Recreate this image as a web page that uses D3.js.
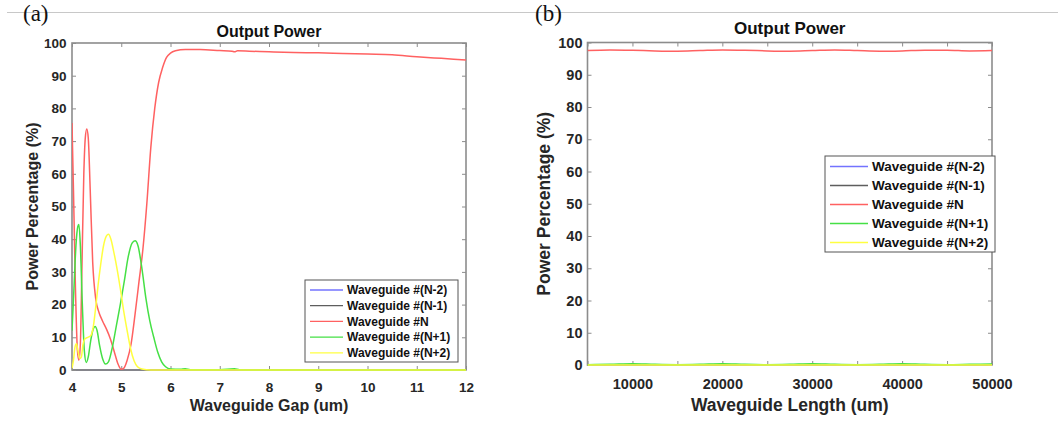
<!DOCTYPE html>
<html>
<head>
<meta charset="utf-8">
<script src="https://cdn.jsdelivr.net/npm/d3@7"></script>
<style>
  html, body { margin: 0; padding: 0; background: #fff; }
  svg { display: block; font-family: "Liberation Sans", Arial, sans-serif; }
</style>
</head>
<body>
<svg id="fig" width="1058" height="423"></svg>
<script>
// ---------- shared legend ----------
const seriesNames  = ["Waveguide #(N-2)", "Waveguide #(N-1)", "Waveguide #N", "Waveguide #(N+1)", "Waveguide #(N+2)"];
const seriesColors = ["#7373ff", "#5e5e5e", "#ff6161", "#45e045", "#ffff40"];

// ---------- panel (a): output power vs. waveguide gap (um) ----------
const gapTicks = [4, 5, 6, 7, 8, 9, 10, 11, 12];
const powerTicks = [0, 10, 20, 30, 40, 50, 60, 70, 80, 90, 100];

const gapNm2 = [4, 6, 8, 10, 12];
const powNm2 = [0, 0, 0, 0, 0];

const gapNm1 = [4, 6, 8, 10, 12];
const powNm1 = [0, 0, 0, 0, 0];

const gapN = [4.00, 4.03, 4.07, 4.11, 4.14, 4.17, 4.20, 4.24, 4.27, 4.30, 4.33, 4.37, 4.42, 4.48,
              4.55, 4.62, 4.70, 4.78, 4.86, 4.93, 5.00, 5.05, 5.12, 5.20, 5.28, 5.36, 5.44, 5.52,
              5.60, 5.68, 5.76, 5.84, 5.92, 6.00, 6.10, 6.30, 6.60, 7.00, 7.25, 7.30, 7.36, 7.60,
              8.00, 8.50, 9.00, 9.50, 10.00, 10.50, 11.00, 11.50, 12.00];
const powN = [75.5, 55, 25, 6, 3, 8, 30, 60, 71, 73.7, 71, 55, 33, 22,
              17.5, 15, 12.5, 9.5, 5.5, 2, 0.2, 0.5, 3, 8, 17, 27, 37, 51,
              68, 80, 88, 92.5, 95.6, 96.9, 97.6, 98.0, 98.0, 97.7, 97.5, 97.3, 97.6, 97.5,
              97.3, 97.1, 97.0, 96.8, 96.6, 96.4, 95.8, 95.3, 94.8];

const gapNp1 = [4.00, 4.04, 4.08, 4.12, 4.14, 4.17, 4.21, 4.25, 4.29, 4.33, 4.38, 4.43, 4.47, 4.51,
                4.56, 4.62, 4.68, 4.74, 4.82, 4.90, 4.98, 5.06, 5.14, 5.22, 5.28, 5.34, 5.42, 5.50,
                5.58, 5.66, 5.74, 5.82, 5.90, 6.00, 6.20, 6.30, 6.40, 7.00, 7.30, 7.40, 8.00, 12.00];
const powNp1 = [12, 25, 38, 44, 44.5, 38, 20, 6, 2.3, 4, 9, 12.5, 13.3, 12,
                7.5, 3.5, 1.8, 2.5, 7, 13.5, 20, 27, 34.5, 38.8, 39.5, 38, 31, 22,
                15, 10, 5.5, 2.5, 1, 0.3, 0.2, 0.4, 0.1, 0.1, 0.4, 0.1, 0, 0];

const gapNp2 = [4.00, 4.03, 4.06, 4.09, 4.12, 4.16, 4.19, 4.22, 4.26, 4.32, 4.38, 4.43, 4.48, 4.53,
                4.58, 4.64, 4.70, 4.74, 4.79, 4.85, 4.92, 4.98, 5.05, 5.12, 5.19, 5.26, 5.33, 5.42,
                5.60, 8.00, 12.00];
const powNp2 = [0.5, 3, 7, 8, 6, 3.5, 4, 7.5, 9.5, 10, 10.5, 13, 19, 26,
                32, 38, 41, 41.5, 40, 36, 30.5, 25, 18, 12, 6.5, 2.8, 1, 0.3,
                0, 0, 0];

// ---------- panel (b): output power vs. waveguide length (um) ----------
const lengthTicks = [5000, 10000, 15000, 20000, 25000, 30000, 35000, 40000, 45000, 50000];

const lengthPts = [5000, 7500, 10000, 12500, 15000, 17500, 20000, 22500, 25000, 27500,
                   30000, 32500, 35000, 37500, 40000, 42500, 45000, 47500, 50000];
const lenNm2 = [0, 0, 0, 0, 0, 0, 0, 0, 0, 0, 0, 0, 0, 0, 0, 0, 0, 0, 0];
const lenNm1 = [0, 0, 0, 0, 0, 0, 0, 0, 0, 0, 0, 0, 0, 0, 0, 0, 0, 0, 0];
const lenN   = [97.5, 97.7, 97.6, 97.4, 97.3, 97.5, 97.7, 97.6, 97.4, 97.3,
                97.5, 97.7, 97.5, 97.3, 97.4, 97.6, 97.6, 97.4, 97.5];
const lenNp1 = [0.1, 0.2, 0.4, 0.2, 0.1, 0.2, 0.4, 0.2, 0.1, 0.2,
                0.4, 0.2, 0.1, 0.2, 0.4, 0.2, 0.1, 0.2, 0.3];
const lenNp2 = [0, 0, 0, 0, 0, 0, 0, 0, 0, 0, 0, 0, 0, 0, 0, 0, 0, 0, 0];

// ---------- drawing ----------
const svg = d3.select("#fig");
const AXIS_GRAY = "#8c8c8c";
const TEXT_DARK = "#262626";

// thin rule across the top of the figure
svg.append("line")
  .attr("x1", 7).attr("x2", 1058).attr("y1", 12.5).attr("y2", 12.5)
  .attr("stroke", "#c8c8c8").attr("stroke-width", 1);

function drawPanel(p) {
  const g = svg.append("g");
  const x = d3.scaleLinear().domain(p.xDomain).range([p.left, p.right]);
  const y = d3.scaleLinear().domain([0, 100]).range([p.bottom, p.top]);

  // panel tag
  g.append("text")
    .attr("x", p.tagX).attr("y", 21)
    .attr("font-family", "'Liberation Serif', 'Times New Roman', serif")
    .attr("font-size", 23).attr("fill", "#111")
    .text(p.tag);

  // title
  g.append("text")
    .attr("x", (p.left + p.right) / 2).attr("y", p.titleY)
    .attr("text-anchor", "middle").attr("font-weight", "bold")
    .attr("font-size", p.titleSize).attr("fill", "#111")
    .text("Output Power");

  const clipId = "clip-" + p.tag.replace(/\W/g, "");
  g.append("clipPath").attr("id", clipId)
    .append("rect")
    .attr("x", p.left).attr("y", p.top - 2)
    .attr("width", p.right - p.left).attr("height", p.bottom - p.top + 4);

  const line = d3.line()
    .x(d => x(d[0])).y(d => y(d[1]))
    .curve(d3.curveMonotoneX);

  const drawCurves = (indices) => {
    const layer = g.append("g").attr("clip-path", `url(#${clipId})`);
    indices.forEach(i => {
      const s = p.series[i];
      layer.append("path")
        .datum(d3.zip(s[0], s[1]))
        .attr("d", line)
        .attr("fill", "none")
        .attr("stroke", seriesColors[i])
        .attr("stroke-width", 1.5)
        .attr("stroke-linejoin", "round");
    });
  };

  // the two outer guides sit flat on zero, beneath the axes frame
  drawCurves([0, 1]);

  // axes box with inward ticks on all four sides
  const styleAxis = (sel, size) => {
    sel.select(".domain").remove();
    sel.selectAll(".tick line").attr("stroke", AXIS_GRAY);
    sel.selectAll(".tick text")
      .attr("fill", TEXT_DARK).attr("font-weight", "bold")
      .attr("font-size", size).attr("font-family", "'Liberation Sans', Arial, sans-serif");
  };

  g.append("g").attr("transform", `translate(0,${p.bottom})`)
    .call(d3.axisBottom(x).tickValues(p.xTicks).tickSizeInner(-4).tickSizeOuter(0)
      .tickPadding(p.xPad).tickFormat(p.xFormat))
    .call(s => styleAxis(s, p.tickSize));

  g.append("g").attr("transform", `translate(0,${p.top})`)
    .call(d3.axisTop(x).tickValues(p.xTicks).tickSizeInner(-4).tickSizeOuter(0).tickFormat(""))
    .call(s => styleAxis(s, p.tickSize));

  g.append("g").attr("transform", `translate(${p.left},0)`)
    .call(d3.axisLeft(y).tickValues(powerTicks).tickSizeInner(-4).tickSizeOuter(0)
      .tickPadding(p.yPad).tickFormat(d3.format("d")))
    .call(s => styleAxis(s, p.tickSize));

  g.append("g").attr("transform", `translate(${p.right},0)`)
    .call(d3.axisRight(y).tickValues(powerTicks).tickSizeInner(-4).tickSizeOuter(0).tickFormat(""))
    .call(s => styleAxis(s, p.tickSize));

  g.append("rect")
    .attr("x", p.left).attr("y", p.top)
    .attr("width", p.right - p.left).attr("height", p.bottom - p.top)
    .attr("fill", "none").attr("stroke", AXIS_GRAY).attr("stroke-width", 1.6);

  // remaining curves drawn over the frame
  drawCurves([2, 3, 4]);

  // axis labels
  g.append("text")
    .attr("x", (p.left + p.right) / 2).attr("y", p.xLabelY)
    .attr("text-anchor", "middle").attr("font-weight", "bold")
    .attr("font-size", p.labelSize).attr("fill", TEXT_DARK)
    .text(p.xLabel);

  g.append("text")
    .attr("transform", `translate(${p.yLabelX},${(p.top + p.bottom) / 2}) rotate(-90)`)
    .attr("text-anchor", "middle").attr("font-weight", "bold")
    .attr("font-size", p.labelSize).attr("fill", TEXT_DARK)
    .text("Power Percentage (%)");

  // legend
  const L = p.legend;
  const lg = g.append("g");
  lg.append("rect")
    .attr("x", L.x).attr("y", L.y).attr("width", L.w).attr("height", L.h)
    .attr("fill", "#fff").attr("stroke", "#555").attr("stroke-width", 1);
  seriesNames.forEach((name, i) => {
    const cy = L.firstY + i * L.step;
    lg.append("line")
      .attr("x1", L.x + L.lineX0).attr("x2", L.x + L.lineX1)
      .attr("y1", cy).attr("y2", cy)
      .attr("stroke", seriesColors[i]).attr("stroke-width", 1.3);
    lg.append("text")
      .attr("x", L.x + L.textX).attr("y", cy).attr("dy", "0.35em")
      .attr("font-weight", "bold").attr("font-size", L.font).attr("fill", "#111")
      .text(name);
  });
}

drawPanel({
  tag: "(a)", tagX: 23,
  left: 72, right: 466, top: 43, bottom: 370,
  xDomain: [4, 12], xTicks: gapTicks, xFormat: d3.format("d"),
  xPad: 12, yPad: 5.5,
  tickSize: 13.5, titleSize: 16, titleY: 37, labelSize: 16,
  xLabel: "Waveguide Gap (um)", xLabelY: 411, yLabelX: 38,
  series: [[gapNm2, powNm2], [gapNm1, powNm1], [gapN, powN], [gapNp1, powNp1], [gapNp2, powNp2]],
  legend: { x: 305, y: 280, w: 153, h: 82, firstY: 290, step: 15.7,
            lineX0: 5, lineX1: 38, textX: 42, font: 12 }
});

drawPanel({
  tag: "(b)", tagX: 535,
  left: 587.5, right: 992, top: 42.5, bottom: 365,
  xDomain: [5000, 50000], xTicks: lengthTicks, xFormat: d => (d % 10000 === 0 ? d : ""),
  xPad: 13.5, yPad: 5,
  tickSize: 14.5, titleSize: 17, titleY: 34, labelSize: 17.5,
  xLabel: "Waveguide Length (um)", xLabelY: 411, yLabelX: 550,
  series: [[lengthPts, lenNm2], [lengthPts, lenNm1], [lengthPts, lenN], [lengthPts, lenNp1], [lengthPts, lenNp2]],
  legend: { x: 825, y: 156, w: 170, h: 96, firstY: 166.5, step: 19,
            lineX0: 5, lineX1: 43, textX: 47, font: 13.5 }
});
</script>
</body>
</html>
